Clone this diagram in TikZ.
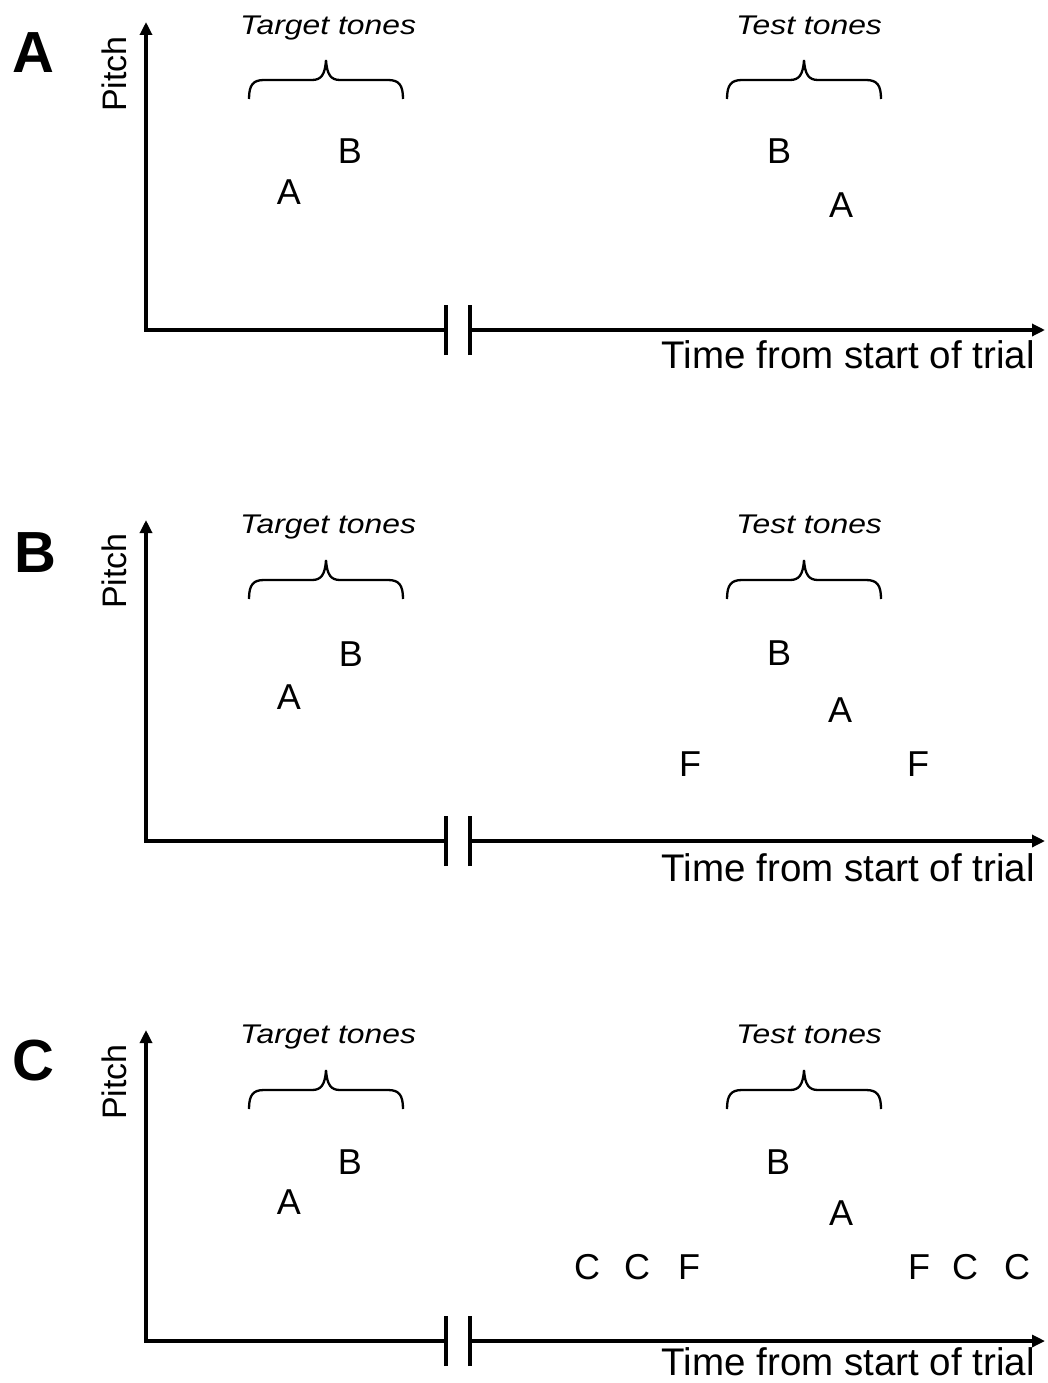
\documentclass[tikz,border=0pt]{standalone}
\usepackage{fontspec}
\setmainfont{Liberation Sans}
\usetikzlibrary{arrows.meta}

\tikzset{
  axisline/.style={line width=3.2pt, line join=miter},
  axisarrow/.style={axisline, -{Triangle[length=13pt,width=12pt]}},
  bracepath/.style={line width=2.3pt},
  tone/.style={inner sep=0pt, font=\fontsize{36}{40}\selectfont},
  panelmark/.style={inner sep=0pt, font=\fontsize{58}{64}\selectfont\bfseries},
  pitchlabel/.style={inner sep=0pt, rotate=90, font=\fontsize{34}{38}\selectfont},
  timelabel/.style={inner sep=0pt, anchor=base east, font=\fontsize{38.5}{44}\selectfont},
  grouplabel/.style={inner sep=0pt, anchor=base, font=\fontsize{27}{32}\selectfont\itshape},
}

% axes of one trial: #1 name prefix, #2 height of time axis, #3 top of pitch axis,
% #4 baseline of the time label
\newcommand\trialaxes[4]{%
  \coordinate (#1top) at (146,#3);
  \coordinate (#1o)   at (146,#2);
  \coordinate (#1gl)  at (446,#2);
  \coordinate (#1gr)  at (470,#2);
  \coordinate (#1end) at (1045,#2);
  \draw[axisline, {Triangle[length=13pt,width=12pt]}-] (#1top) -- (#1o) -- (#1gl);
  \draw[axisline] ([yshift=-25pt]#1gl) -- ([yshift=25pt]#1gl);
  \draw[axisline] ([yshift=-25pt]#1gr) -- ([yshift=25pt]#1gr);
  \draw[axisarrow] (#1gr) -- (#1end);
  \node[timelabel] (#1time) at (1035,#4) {Time from start of trial};
}

% curly brace over a group of tones: #1 x of the tip, #2 y of the tip
\newcommand\tonebrace[2]{%
  \draw[bracepath, shift={(#1,#2)}]
    (-77,39) .. controls (-77,25) and (-73,20) .. (-62,20) -- (-14,20)
    .. controls (-5,20) and (-1,15) .. (0,0)
    .. controls (1,15) and (5,20) .. (14,20) -- (62,20)
    .. controls (73,20) and (77,25) .. (77,39);
}

\begin{document}
\begin{tikzpicture}[x=1pt,y=-1pt]
\fill[white] (0,0) rectangle (1047,1383);
\useasboundingbox (0,0) rectangle (1047,1383);

% ---------------- panel A ----------------
\node[panelmark] (markA) at (33,53) {A};
\node[pitchlabel] (pitchA) at (114,74) {Pitch};
\trialaxes{a}{330}{22}{368}
\node[grouplabel] (targetA) at (328,35) {\scalebox{1.18}[1]{Target tones}};
\node[grouplabel] (testA) at (809,35) {\scalebox{1.18}[1]{Test tones}};
\tonebrace{326}{60}
\tonebrace{804}{60}
\node[tone] (aTA) at (289,192) {A};
\node[tone] (aTB) at (350,151) {B};
\node[tone] (aSB) at (779,151) {B};
\node[tone] (aSA) at (841,205) {A};

% ---------------- panel B ----------------
\node[panelmark] (markB) at (35,553) {B};
\node[pitchlabel] (pitchB) at (114,571) {Pitch};
\trialaxes{b}{841}{520}{881}
\node[grouplabel] (targetB) at (328,533) {\scalebox{1.18}[1]{Target tones}};
\node[grouplabel] (testB) at (809,533) {\scalebox{1.18}[1]{Test tones}};
\tonebrace{326}{560}
\tonebrace{804}{560}
\node[tone] (bTA) at (289,697) {A};
\node[tone] (bTB) at (351,654) {B};
\node[tone] (bSB) at (779,653) {B};
\node[tone] (bSA) at (840,710) {A};
\node[tone] (bF1) at (690,764) {F};
\node[tone] (bF2) at (918,764) {F};

% ---------------- panel C ----------------
\node[panelmark] (markC) at (33,1061) {C};
\node[pitchlabel] (pitchC) at (114,1082) {Pitch};
\trialaxes{c}{1341}{1030}{1375}
\node[grouplabel] (targetC) at (328,1043) {\scalebox{1.18}[1]{Target tones}};
\node[grouplabel] (testC) at (809,1043) {\scalebox{1.18}[1]{Test tones}};
\tonebrace{326}{1070}
\tonebrace{804}{1070}
\node[tone] (cTA) at (289,1202) {A};
\node[tone] (cTB) at (350,1162) {B};
\node[tone] (cSB) at (778,1162) {B};
\node[tone] (cSA) at (841,1213) {A};
\node[tone] (cC1) at (587,1267) {C};
\node[tone] (cC2) at (637,1267) {C};
\node[tone] (cF1) at (689,1267) {F};
\node[tone] (cF2) at (919,1267) {F};
\node[tone] (cC3) at (965,1267) {C};
\node[tone] (cC4) at (1017,1267) {C};
\end{tikzpicture}
\end{document}
